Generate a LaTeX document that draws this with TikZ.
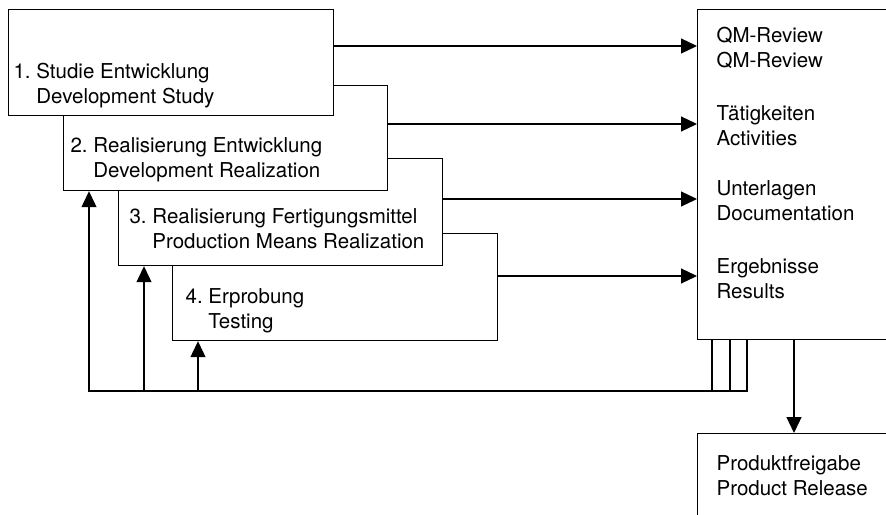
\documentclass[tikz,border=0pt]{standalone}
\usepackage{fontspec}
\setmainfont{TeX Gyre Heros}
\usetikzlibrary{calc, arrows.meta}

\begin{document}
\begin{tikzpicture}[x=1pt, y=-1pt, line width=1.2pt,
    font=\fontsize{20.5}{24.5}\selectfont]
  \tikzstyle{fleche}=[-{Triangle[length=16pt,width=15pt]}]
  \tikzstyle{kasten}=[draw, fill=white, anchor=north west, inner sep=0pt]
  \tikzstyle{texte}=[anchor=base west, align=left, inner sep=0pt]
  \clip (0,0) rectangle (886,514);
  \node[kasten, minimum width=325, minimum height=107] (erprob) at (172,233) {};
  \node[kasten, minimum width=324, minimum height=107] (realfert) at (118,158) {};
  \node[kasten, minimum width=324, minimum height=105] (realent) at (63,85) {};
  \node[kasten, minimum width=325, minimum height=106] (studie) at (8,9) {};
  \node[kasten, minimum width=200, minimum height=330] (qm) at (697,9) {};
  \node[kasten, minimum width=200, minimum height=100] (freigabe) at (697,433) {};
  \node[texte] (t1) at (13,103) {1.\ Studie Entwicklung\\\hphantom{1.\ }Development Study};
  \node[texte] (t2) at (70,177) {2.\ Realisierung Entwicklung\\\hphantom{2.\ }Development Realization};
  \node[texte] (t3) at (129,248) {3.\ Realisierung Fertigungsmittel\\\hphantom{3.\ }Production Means Realization};
  \node[texte] (t4) at (185,328) {4.\ Erprobung\\\hphantom{4.\ }Testing};
  \node[texte] (qmrev) at (716,67) {QM-Review\\QM-Review};
  \node[texte] (taetig) at (716,145) {Tätigkeiten\\Activities};
  \node[texte] (unterl) at (716,220) {Unterlagen\\Documentation};
  \node[texte] (ergeb) at (716,298) {Ergebnisse\\Results};
  \node[texte] (freig) at (716,495) {Produktfreigabe\\Product Release};
  \foreach \k/\d in {studie/37, realent/39, realfert/41, erprob/43}
    \draw[fleche] (\k.north east) ++(0,\d) coordinate (a) -- (a -| qm.west);
  \coordinate (rueck) at (0,391);
  \foreach \k/\d in {realent/50, realfert/33, erprob/15}
    \draw[fleche] ($(qm.south west)+(\d,0)$) |- ($(\k.south west |- rueck)+(26,0)$)
      -- ($(\k.south west)+(26,0)$);
  \draw[fleche] ($(qm.south west)+(97,0)$) -- ($(freigabe.north west)+(97,0)$);
\end{tikzpicture}
\end{document}
